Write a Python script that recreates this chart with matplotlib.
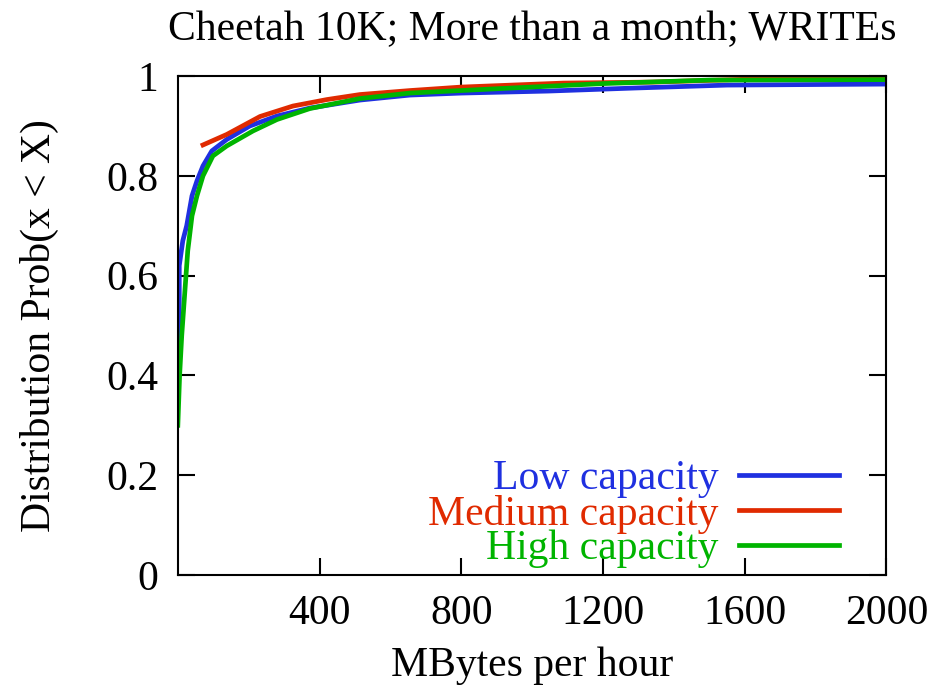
import numpy as np
import matplotlib
matplotlib.use('Agg')
import matplotlib.pyplot as plt

# CDF points (MBytes per hour, probability)
low_x = [0, 4, 4, 14, 25, 40, 54, 71, 96, 138, 203, 280, 373, 514, 655, 800, 1045, 1285, 1550, 2000]
low_y = [0.43, 0.52, 0.62, 0.67, 0.70, 0.76, 0.79, 0.82, 0.85, 0.873, 0.90, 0.92, 0.936, 0.952, 0.962, 0.966, 0.970, 0.976, 0.982, 0.984]

med_x = [71, 138, 232, 325, 421, 514, 655, 800, 1088, 1339, 1664, 2000]
med_y = [0.862, 0.883, 0.919, 0.94, 0.953, 0.963, 0.971, 0.978, 0.986, 0.988, 0.995, 0.994]

high_x = [0, 5, 11, 20, 28, 40, 54, 71, 99, 138, 212, 280, 373, 514, 655, 910, 1200, 1500, 2000]
high_y = [0.30, 0.40, 0.48, 0.57, 0.65, 0.72, 0.76, 0.80, 0.84, 0.86, 0.89, 0.913, 0.935, 0.955, 0.966, 0.975, 0.985, 0.992, 0.993]

labels = ['Low capacity', 'Medium capacity', 'High capacity']
colors = ['#1f30e0', '#e02a00', '#00b400']

xticks = [400, 800, 1200, 1600, 2000]
yticks = [0, 0.2, 0.4, 0.6, 0.8, 1]
ytick_labels = ['0', '0.2', '0.4', '0.6', '0.8', '1']

plt.rcParams['font.family'] = ['Liberation Serif', 'DejaVu Serif']
fs = 30

fig = plt.figure(figsize=(9.51, 6.9), dpi=100)
ax = fig.add_axes([0.187, 0.1667, 0.745, 0.723])

ax.plot(low_x, low_y, color=colors[0], lw=3.4, label=labels[0])
ax.plot(med_x, med_y, color=colors[1], lw=3.4, label=labels[1])
ax.plot(high_x, high_y, color=colors[2], lw=3.4, label=labels[2])

ax.set_xlim(0, 2000)
ax.set_ylim(0, 1)
ax.set_xticks(xticks)
ax.set_yticks(yticks)
ax.set_yticklabels(ytick_labels)
ax.tick_params(direction='in', length=12, width=1.5, top=True, right=True,
               labelsize=fs, pad=14)
for s in ax.spines.values():
    s.set_linewidth(1.5)

ax.set_title('Cheetah 10K; More than a month; WRITEs', fontsize=fs, pad=26)
ax.set_xlabel('MBytes per hour', fontsize=fs, labelpad=10)
ax.set_ylabel('Distribution Prob(x < X)', fontsize=fs, labelpad=34)

leg = ax.legend(loc='lower right', bbox_to_anchor=(0.975, -0.045), frameon=False,
                markerfirst=False, fontsize=fs, handlelength=2.4,
                handletextpad=0.5, labelspacing=-0.09, labelcolor='linecolor',
                borderpad=0.2)

fig.savefig('out.png', dpi=100)
